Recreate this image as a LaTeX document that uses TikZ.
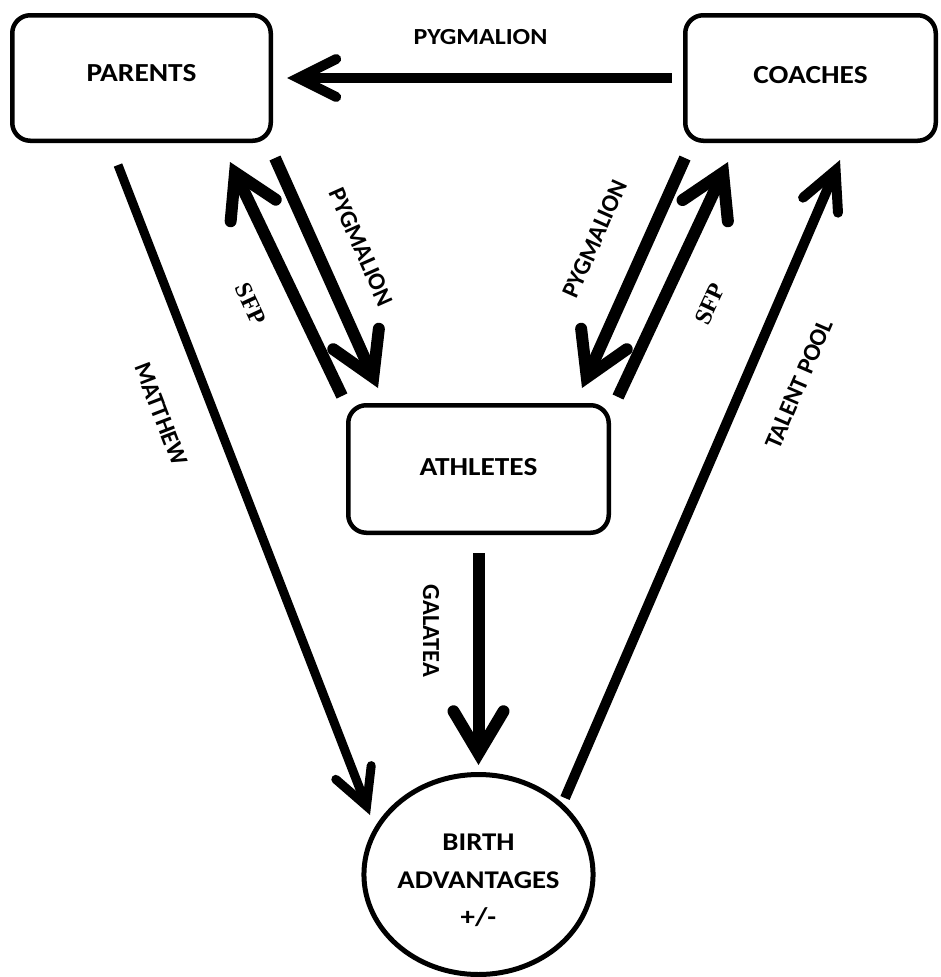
\documentclass[tikz,border=0pt]{standalone}
\usepackage{fontspec}
\setmainfont{Carlito}
\newfontfamily\widefont[FakeStretch=1.13]{Carlito}
\newfontfamily\serifbold{Liberation Serif}
\usetikzlibrary{arrows.meta,shapes.geometric}

\begin{document}
\begin{tikzpicture}[x=1pt,y=-1pt,
  box/.style={draw, line width=4.5pt, rounded corners=18pt, inner sep=0pt,
    minimum height=125.5pt, font=\widefont\bfseries\fontsize{26}{30}\selectfont},
  birthnode/.style={draw, ellipse, line width=5pt, inner sep=0pt,
    minimum width=220pt, minimum height=200pt, align=center,
    font=\widefont\bfseries\fontsize{25.5}{37.5}\selectfont},
  toplabel/.style={inner sep=0pt, font=\widefont\bfseries\fontsize{23}{28}\selectfont},
  lbl/.style={inner sep=0pt, font=\bfseries\fontsize{24.5}{28}\selectfont},
  sfplbl/.style={inner sep=0pt, font=\serifbold\bfseries\fontsize{24}{28}\selectfont},
  heavy/.style={line width=12pt, -{Straight Barb[length=42pt,width=50pt,line cap=round]}},
  medium/.style={line width=10pt, -{Straight Barb[length=38pt,width=38pt,line cap=round]}},
  light/.style={line width=9pt, -{Straight Barb[length=36pt,width=38pt,line cap=round]}}
]
\fill[white] (0,0) rectangle (941,977);
\useasboundingbox (0,0) rectangle (941,977);

% the four actors
\node[box, minimum width=258.5pt, text depth=10pt] (parents) at (141.5,78) {PARENTS};
\node[box, minimum width=250.5pt, text depth=6pt] (coaches) at (810.5,78) {COACHES};
\node[box, minimum width=260.5pt, minimum height=127.5pt, text depth=4pt] (athletes) at (478.5,469) {ATHLETES};
\node[birthnode] (birth) at (478.5,874.5) {\rule{0pt}{29pt}BIRTH\\ADVANTAGES\\+/-};

% end points of the slanted connectors
\coordinate (pygL1) at ([shift={(2,15)}]parents.south east);
\coordinate (sfpL2) at ([shift={(-43,19)}]parents.south east);
\coordinate (pygL2) at ([shift={(32,-15)}]athletes.north west);
\coordinate (sfpL1) at ([shift={(-4,-7)}]athletes.north west);
\coordinate (pygR1) at ([shift={(2,15)}]coaches.south west);
\coordinate (sfpR2) at ([shift={(45,19)}]coaches.south west);
\coordinate (pygR2) at ([shift={(-29,-15)}]athletes.north east);
\coordinate (sfpR1) at ([shift={(7,-6)}]athletes.north east);
\coordinate (mat1) at ([shift={(108,22)}]parents.south west);
\coordinate (mat2) at ([shift={(-108.5,-59.5)}]birth.center);
\coordinate (tal1) at ([shift={(86.5,-76.5)}]birth.center);
\coordinate (tal2) at ([shift={(-98,17)}]coaches.south east);

% connectors
\draw[medium, shorten <=11pt, shorten >=14pt] (coaches.west) -- (parents.east);
\draw[heavy] (pygL1) -- (pygL2);
\draw[heavy] (sfpL1) -- (sfpL2);
\draw[heavy] (pygR1) -- (pygR2);
\draw[heavy] (sfpR1) -- (sfpR2);
\draw[light] (mat1) -- (mat2);
\draw[heavy, shorten <=18pt, shorten >=7pt] (athletes.south) -- (birth.north);
\draw[medium] (tal1) -- (tal2);

% connector labels
\node[toplabel] (lpygtop) at (480.5,37.5) {PYGMALION};
\node[lbl, rotate=-66] (lpygleft) at (361,247) {PYGMALION};
\node[sfplbl, rotate=-65] (lsfpleft) at (251,304) {SFP};
\node[lbl, rotate=66] (lpygright) at (595,239) {PYGMALION};
\node[sfplbl, rotate=65] (lsfpright) at (710,304) {SFP};
\node[lbl, rotate=-69] (lmatthew) at (161,414) {MATTHEW};
\node[lbl, rotate=-90] (lgalatea) at (431,631) {GALATEA};
\node[lbl, rotate=66.7] (ltalent) at (799,384) {TALENT POOL};
\end{tikzpicture}
\end{document}
